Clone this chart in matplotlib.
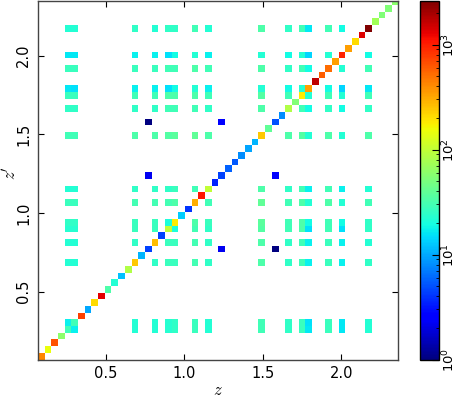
import numpy as np
import matplotlib
matplotlib.use("Agg")
import matplotlib.pyplot as plt
from matplotlib.colors import LogNorm

# ---------------- data ----------------
n_bins = 54
z_min, z_max = 0.07, 2.365

# diagonal values, bin 0 .. 53
diag_values = [420, 150, 650, 60, 29, 29, 750, 10, 210, 1300,
               33, 22, 12, 85, 240, 11, 4.4, 265, 4.4, 100,
               180, 13, 4.0, 300, 1050, 100, 3.5, 4.4, 5.6, 5.3,
               8.0, 9.5, 11, 240, 40, 5.0, 8.0, 85, 53, 180,
               340, 1700, 590, 520, 340, 980, 340, 210, 1370, 2630,
               72, 53, 53, 58]

# bins that have off-diagonal entries
s_bins = [4, 5, 14, 17, 19, 20, 23, 25, 33, 37, 39, 40, 43, 45, 49]

# upper triangle of the off-diagonal block (row k holds columns k+1 .. end)
s_upper = [
    [17, 22, 22, 23, 25, 27, 22, 29, 25, 27, 16, 27, 16, 22],
    [22, 22, 23, 25, 27, 22, 29, 25, 27, 15, 27, 16, 22],
    [25, 27, 27, 30, 25, 33, 25, 29, 17, 27, 17, 25],
    [27, 27, 30, 25, 33, 25, 29, 17, 27, 17, 22],
    [21, 30, 25, 35, 29, 33, 15, 29, 15, 25],
    [33, 27, 37, 29, 33, 19, 29, 19, 25],
    [29, 39, 29, 33, 22, 33, 22, 29],
    [33, 25, 29, 17, 29, 17, 22],
    [33, 35, 22, 33, 22, 33],
    [29, 19, 25, 19, 25],
    [22, 29, 22, 29],
    [19, 14, 16],
    [22, 29],
    [19],
]

# three isolated low-count pairs
pair_i = [16, 16, 27]
pair_j = [35, 27, 35]
pair_values = [1.0, 2.2, 2.4]

x_ticks = [0.5, 1.0, 1.5, 2.0]
x_tick_labels = ["0.5", "1.0", "1.5", "2.0"]
cbar_ticks = [1, 10, 100, 1000]
cbar_labels = [r"$10^{0}$", r"$10^{1}$", r"$10^{2}$", r"$10^{3}$"]
v_min, v_max = 1.0, 2630.0

# ---------------- build matrix ----------------
mat = np.zeros((n_bins, n_bins))
for k, v in enumerate(diag_values):
    mat[k, k] = v
for a, row in enumerate(s_upper):
    for b, v in enumerate(row):
        i, j = s_bins[a], s_bins[a + 1 + b]
        mat[i, j] = v
        mat[j, i] = v
for i, j, v in zip(pair_i, pair_j, pair_values):
    mat[i, j] = v
    mat[j, i] = v
masked = np.ma.masked_where(mat <= 0, mat)
edges = np.linspace(z_min, z_max, n_bins + 1)

# ---------------- figure ----------------
W, H = 457, 398
fig = plt.figure(figsize=(W / 100, H / 100), dpi=100)
ax = fig.add_axes([38 / W, 38.5 / H, 360 / W, 359 / H])
cax = fig.add_axes([420 / W, 38.5 / H, 18.5 / W, 359 / H])

mesh = ax.pcolormesh(edges, edges, masked, cmap="jet",
                     norm=LogNorm(vmin=v_min, vmax=v_max), shading="flat")
ax.set_xlim(0.07, 2.36)
ax.set_ylim(0.07, 2.35)

ax.set_xticks(x_ticks)
ax.set_xticklabels(x_tick_labels, fontsize=10.5)
ax.set_yticks(x_ticks)
ax.set_yticklabels(x_tick_labels, fontsize=10.5, rotation=90, va="center")
ax.tick_params(direction="in", top=True, right=True, length=4, width=0.8,
               pad=5)
for sp in ax.spines.values():
    sp.set_linewidth(1.0)
    sp.set_color("#444444")

ax.set_xlabel(r"$z$", fontsize=12, math_fontfamily="cm")
ax.set_ylabel(r"$z'$", fontsize=12, math_fontfamily="cm")
ax.xaxis.set_label_coords(0.5, -0.085)
ax.yaxis.set_label_coords(-0.075, 0.52)
ax.xaxis.label.set_va("center")
ax.yaxis.label.set_va("center")

cbar = fig.colorbar(mesh, cax=cax)
cbar.set_ticks(cbar_ticks)
cbar.set_ticklabels(cbar_labels)
cax.tick_params(which="both", direction="in", labelsize=9.5, pad=1.5)
cax.tick_params(which="major", length=5, width=0.8)
cax.tick_params(which="minor", length=2.5, width=0.6)
for lab in cax.get_yticklabels():
    lab.set_rotation(90)
    lab.set_va("center")
cbar.outline.set_linewidth(1.0)

fig.savefig("out.png", dpi=100)
